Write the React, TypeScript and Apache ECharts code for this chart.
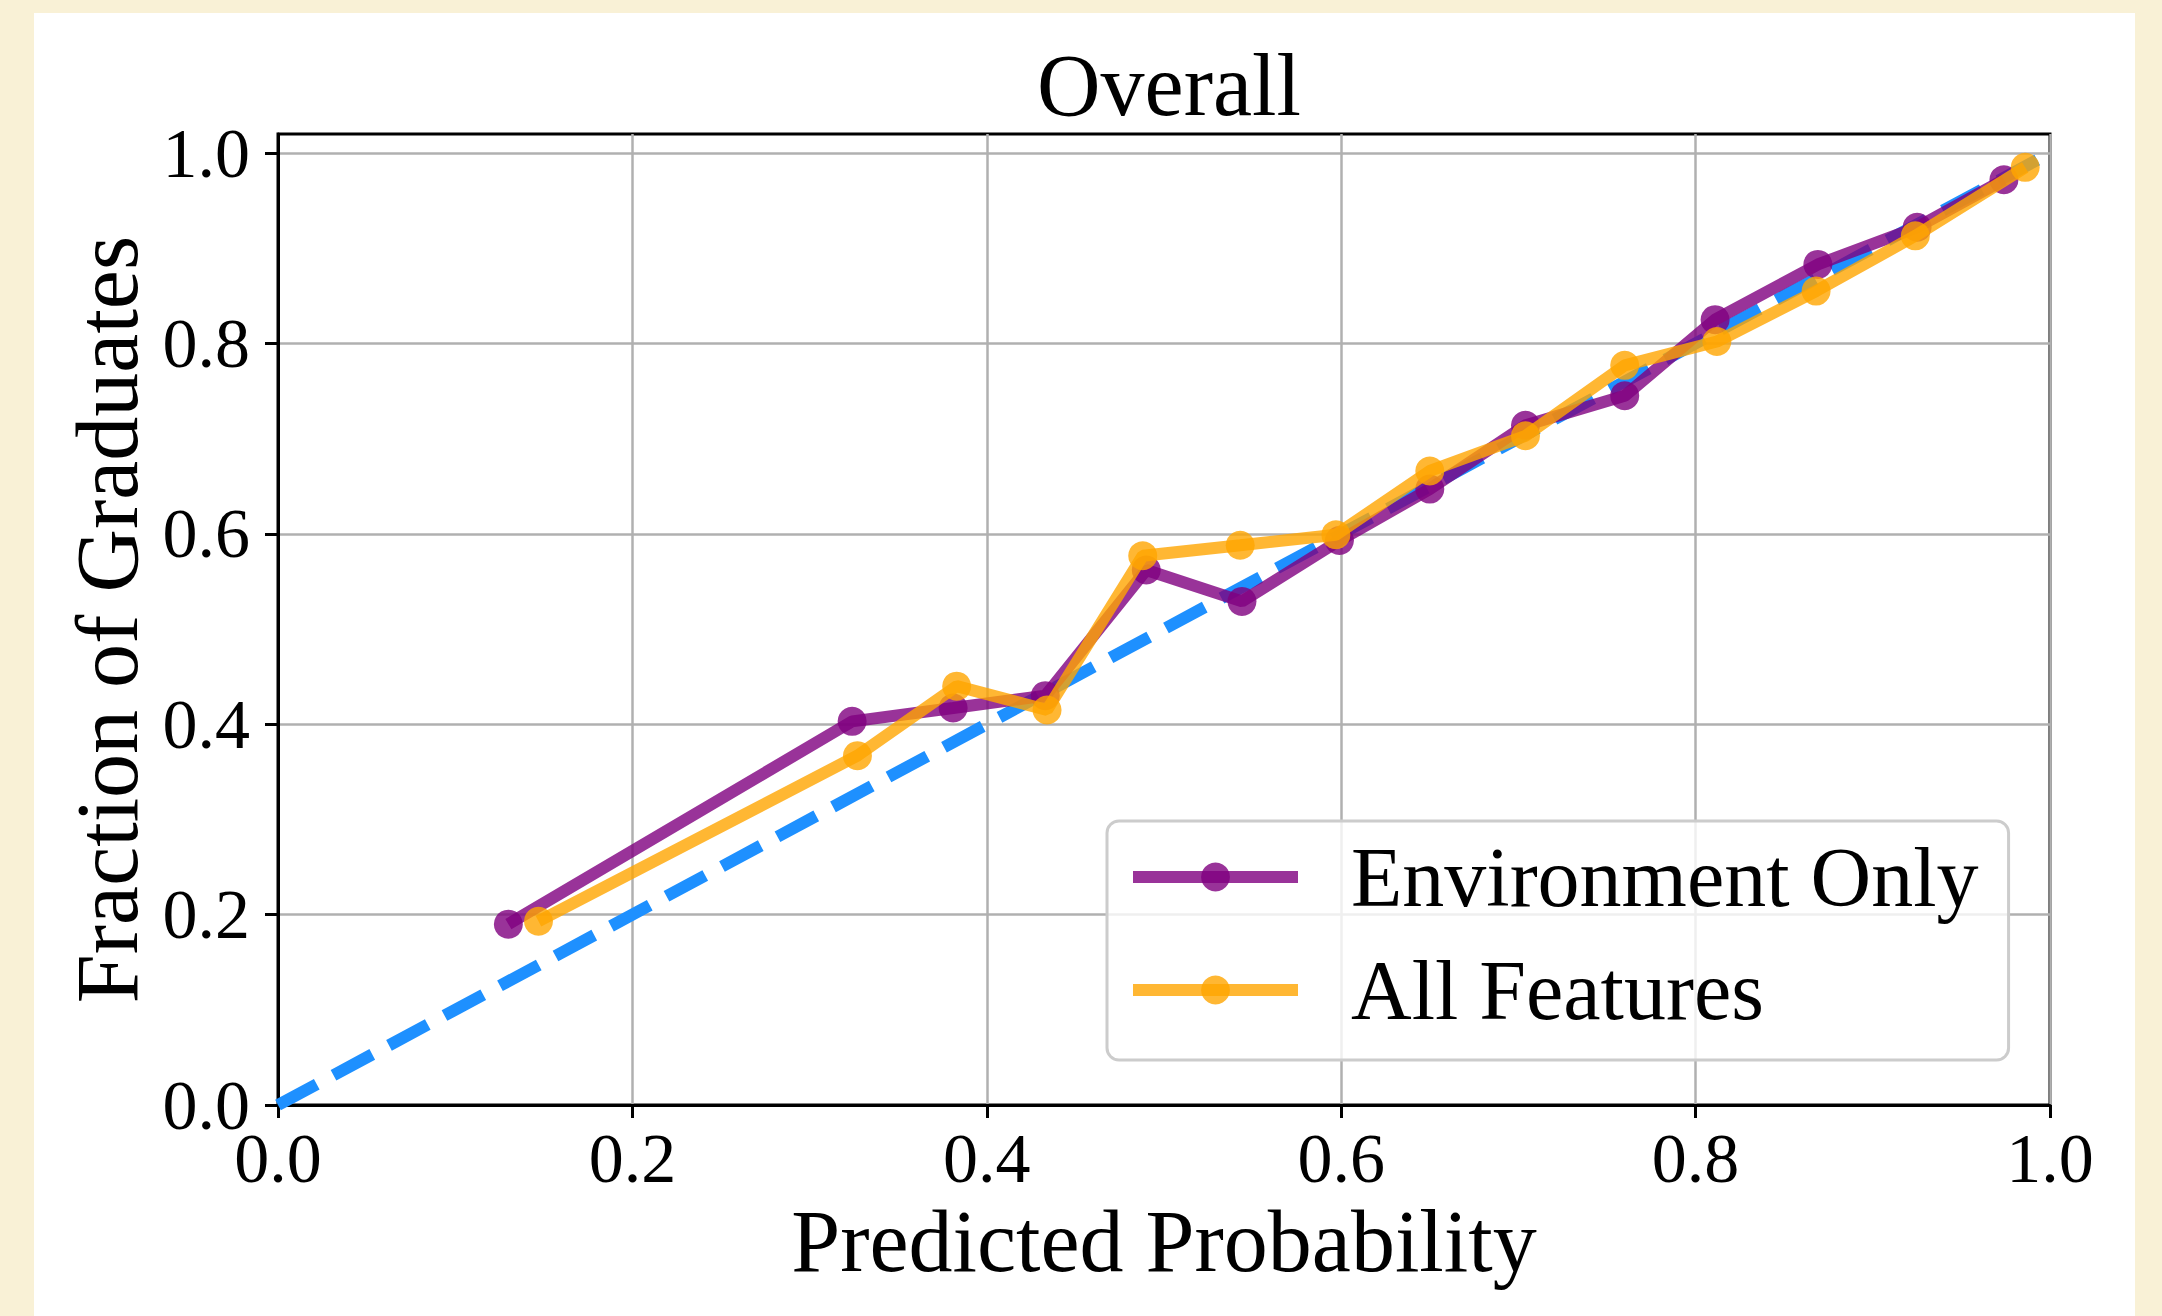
import React, { useEffect, useRef } from "react";
import * as echarts from "echarts";

const envX = [0.130, 0.324, 0.381, 0.433, 0.490, 0.544, 0.599, 0.650, 0.704, 0.760, 0.811, 0.869, 0.925, 0.974];
const envY = [0.190, 0.403, 0.417, 0.430, 0.562, 0.529, 0.593, 0.647, 0.714, 0.745, 0.825, 0.883, 0.922, 0.972];
const allX = [0.147, 0.327, 0.383, 0.434, 0.488, 0.543, 0.597, 0.650, 0.704, 0.760, 0.812, 0.868, 0.924, 0.986];
const allY = [0.193, 0.367, 0.440, 0.415, 0.577, 0.588, 0.599, 0.666, 0.703, 0.777, 0.802, 0.855, 0.913, 0.985];
const diagX = [0, 1];
const diagY = [0, 1];
const tickValues = [0, 0.2, 0.4, 0.6, 0.8, 1.0];

const FONT = "'Liberation Serif', 'DejaVu Serif', serif";

export default function App() {
  const ref = useRef<HTMLDivElement>(null);

  useEffect(() => {
    if (!ref.current) return;
    const chart = echarts.init(ref.current, null, { renderer: "svg" });
    const option = {
      animation: false,
      backgroundColor: "transparent",
      title: {
        text: "Overall",
        left: 1164,
        top: 36,
        textAlign: "center",
        textStyle: { fontFamily: FONT, fontSize: 88, fontWeight: "normal", color: "#000" },
      },
      grid: {
        left: 278,
        right: 112,
        top: 134,
        bottom: 211,
        show: true,
        borderColor: "#000",
        borderWidth: 3,
        backgroundColor: "transparent",
      },
      legend: {
        data: ["Environment Only", "All Features"],
        orient: "vertical",
        left: 1107,
        top: 821,
        itemWidth: 165,
        itemHeight: 36,
        itemGap: 29,
        padding: [14, 30, 28, 20],
        backgroundColor: "rgba(255,255,255,0.8)",
        borderColor: "#cccccc",
        borderWidth: 3,
        borderRadius: 12,
        lineStyle: { width: 12 },
        textStyle: { fontFamily: FONT, fontSize: 84, color: "#000", padding: [0, 0, 0, 48] },
      },
      xAxis: {
        type: "value",
        min: 0,
        max: 1,
        interval: 0.2,
        name: "Predicted Probability",
        nameLocation: "middle",
        nameGap: 92,
        nameTextStyle: { fontFamily: FONT, fontSize: 88, color: "#000" },
        axisLine: { show: true, onZero: false, lineStyle: { color: "#000", width: 3 } },
        axisTick: { show: true, length: 13, lineStyle: { color: "#000", width: 3 } },
        axisLabel: {
          margin: 18,
          fontFamily: FONT,
          fontSize: 70,
          color: "#000",
          formatter: (v: number) => v.toFixed(1),
        },
        splitLine: { show: true, lineStyle: { color: "#b0b0b0", width: 2.5 } },
      },
      yAxis: {
        type: "value",
        min: 0,
        max: 1.02,
        interval: 0.2,
        name: "Fraction of Graduates",
        nameLocation: "middle",
        nameGap: 126,
        nameTextStyle: { fontFamily: FONT, fontSize: 88, color: "#000" },
        axisLine: { show: true, onZero: false, lineStyle: { color: "#000", width: 3 } },
        axisTick: {
          show: true,
          length: 13,
          customValues: tickValues,
          lineStyle: { color: "#000", width: 3 },
        },
        axisLabel: {
          margin: 28,
          fontFamily: FONT,
          fontSize: 70,
          color: "#000",
          customValues: tickValues,
          formatter: (v: number) => v.toFixed(1),
        },
        splitLine: { show: true, lineStyle: { color: "#b0b0b0", width: 2.5 } },
      },
      series: [
        {
          name: "Perfect",
          type: "line",
          data: diagX.map((x, i) => [x, diagY[i]]),
          symbol: "none",
          lineStyle: { color: "#1E90FF", width: 12, type: [44, 19] },
          z: 2,
        },
        {
          name: "Environment Only",
          type: "line",
          data: envX.map((x, i) => [x, envY[i]]),
          symbol: "circle",
          symbolSize: 29,
          lineStyle: { color: "#800080", width: 12, opacity: 0.8 },
          itemStyle: { color: "#800080", opacity: 0.8 },
          z: 3,
        },
        {
          name: "All Features",
          type: "line",
          data: allX.map((x, i) => [x, allY[i]]),
          symbol: "circle",
          symbolSize: 29,
          lineStyle: { color: "#FFA500", width: 12, opacity: 0.8 },
          itemStyle: { color: "#FFA500", opacity: 0.8 },
          z: 4,
        },
      ],
    };
    chart.setOption(option as any);
    return () => chart.dispose();
  }, []);

  return (
    <div
      style={{
        position: "fixed",
        left: 0,
        top: 0,
        width: 2162,
        height: 1316,
        background: "#f9f1d6",
        overflow: "hidden",
      }}
    >
      <div
        style={{
          position: "absolute",
          left: 34,
          top: 13,
          width: 2101,
          height: 1303,
          background: "#ffffff",
        }}
      />
      <div ref={ref} style={{ position: "absolute", left: 0, top: 0, width: 2162, height: 1316 }} />
    </div>
  );
}
